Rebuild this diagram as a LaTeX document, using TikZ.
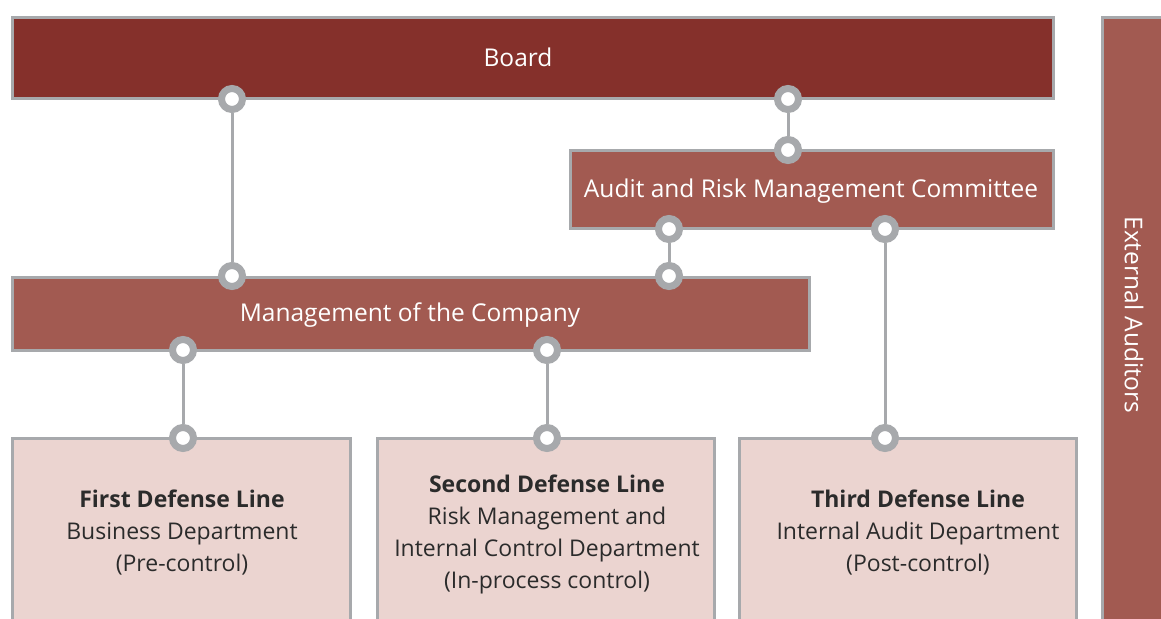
\documentclass[tikz,border=0pt]{standalone}
\usepackage{fontspec}
\setmainfont{Open Sans}
\definecolor{boardred}{HTML}{85302B}
\definecolor{midred}{HTML}{A25A51}
\definecolor{lightpink}{HTML}{EBD4D0}
\definecolor{edgegray}{HTML}{A7A9AC}
\definecolor{txtdark}{HTML}{2B2B2B}
\tikzset{
  box/.style={draw=edgegray, line width=3pt},
  conn/.style={circle, draw=edgegray, line width=7pt, fill=white, minimum size=21pt, inner sep=0pt},
  link/.style={draw=edgegray, line width=3pt},
  whitetxt/.style={text=white, font=\fontsize{24.5}{30}\selectfont, inner sep=0pt},
  darktxt/.style={text=txtdark, font=\fontsize{23}{32}\selectfont, align=center, inner sep=0pt}
}
\begin{document}
\begin{tikzpicture}[x=1pt,y=-1pt]
\useasboundingbox (0,0) rectangle (1161,618);
\clip (0,0) rectangle (1161,618);
\fill[white] (0,0) rectangle (1161,618);
% boxes
\path[box, fill=boardred] (12.5,17.5) rectangle (1053.5,98);
\path[box, fill=midred] (1102.5,17.5) rectangle (1175,640);
\path[box, fill=midred] (570.5,150.5) rectangle (1053.5,228);
\path[box, fill=midred] (12.5,277.5) rectangle (809.5,350);
\path[box, fill=lightpink] (12.5,438.5) rectangle (350.5,640);
\path[box, fill=lightpink] (377.5,438.5) rectangle (714.5,640);
\path[box, fill=lightpink] (739.5,438.5) rectangle (1076.5,640);
% texts
\node[whitetxt] (tboard) at (518,57) {Board};
\node[whitetxt] (taudit) at (811,191) {Audit and Risk Management Committee};
\node[whitetxt] (tmgmt) at (410,315) {Management of the Company};
\node[whitetxt, rotate=-90] (text) at (1134,315) {External Auditors};
\node[darktxt] (tfirst) at (182,533) {\textbf{First Defense Line}\\Business Department\\(Pre-control)};
\node[darktxt] (tsecond) at (547,534) {\textbf{Second Defense Line}\\Risk Management and\\Internal Control Department\\(In-process control)};
\node[darktxt] (tthird) at (918,533) {\textbf{Third Defense Line}\\Internal Audit Department\\(Post-control)};
% connector circles
\node[conn] (b1) at (232,99) {};
\node[conn] (b2) at (788,99) {};
\node[conn] (a0) at (788,150) {};
\node[conn] (a1) at (669,229) {};
\node[conn] (a2) at (885,229) {};
\node[conn] (m1) at (232,276) {};
\node[conn] (m2) at (669,276) {};
\node[conn] (m3) at (183,350) {};
\node[conn] (m4) at (547,350) {};
\node[conn] (d1) at (183,438) {};
\node[conn] (d2) at (547,438) {};
\node[conn] (d3) at (885,438) {};
% links
\draw[link] (b1) -- (m1);
\draw[link] (b2) -- (a0);
\draw[link] (a1) -- (m2);
\draw[link] (a2) -- (d3);
\draw[link] (m3) -- (d1);
\draw[link] (m4) -- (d2);
\end{tikzpicture}
\end{document}
